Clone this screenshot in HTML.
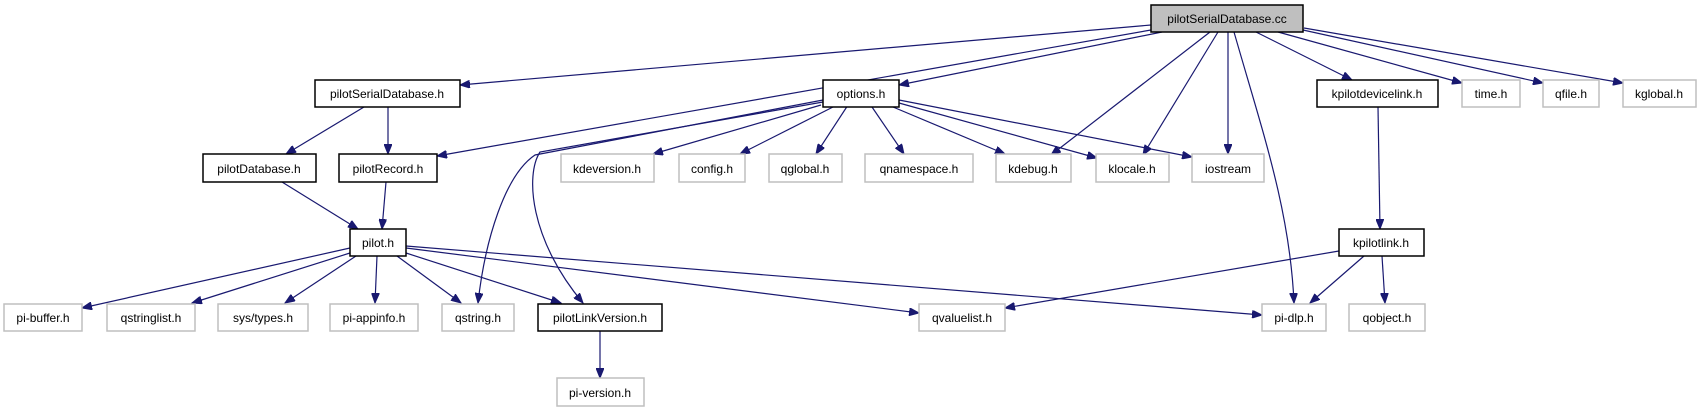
<!DOCTYPE html>
<html><head><meta charset="utf-8"><style>
html,body{margin:0;padding:0;background:#fff;}
svg{display:block;}
text{font-family:"Liberation Sans",Arial,sans-serif;font-size:12px;fill:#000;text-anchor:middle;}
.b{fill:#fff;stroke:#000;stroke-width:1.5;}
.g{fill:#fff;stroke:#bfbfbf;stroke-width:1.5;}
.e{fill:none;stroke:#191970;stroke-width:1.2;marker-end:url(#a);}
</style></head><body>
<svg width="1697" height="411" viewBox="0 0 1697 411" xmlns="http://www.w3.org/2000/svg">
<defs><marker id="a" markerWidth="11" markerHeight="8" refX="10" refY="4" orient="auto" markerUnits="userSpaceOnUse"><path d="M0,0 L10,4 L0,8 z" fill="#191970" stroke="#191970"/></marker></defs>
<g>
<path class="e" d="M1151,25 L460,85"/>
<path class="e" d="M1151,30 L437,156"/>
<path class="e" d="M1162,32 L899,85"/>
<path class="e" d="M1210,32 L1051,155"/>
<path class="e" d="M1218,32 L1143,155"/>
<path class="e" d="M1228,32 L1228,154"/>
<path class="e" d="M1234,32 C1262,130 1290,210 1294,303"/>
<path class="e" d="M1256,32 L1352,80"/>
<path class="e" d="M1278,32 L1462,83"/>
<path class="e" d="M1303,30 L1543,83"/>
<path class="e" d="M1304,28 L1623,83"/>
<path class="e" d="M364,107 L286,154"/>
<path class="e" d="M388,107 L388,154"/>
<path class="e" d="M386,182 L382,229"/>
<path class="e" d="M282,182 L358,229"/>
<path class="e" d="M821,105 L653,154"/>
<path class="e" d="M833,107 L740,154"/>
<path class="e" d="M848,105 L816,154"/>
<path class="e" d="M872,107 L904,154"/>
<path class="e" d="M893,107 L1005,154"/>
<path class="e" d="M899,103 L1097,158"/>
<path class="e" d="M899,100 L1192,157"/>
<path class="e" d="M823,100 L535,155 C505,175 485,240 478,303"/>
<path class="e" d="M823,102 L540,152 C525,175 530,240 583,303"/>
<path class="e" d="M350,248 L82,308"/>
<path class="e" d="M350,253 L192,303"/>
<path class="e" d="M356,256 L285,303"/>
<path class="e" d="M377,256 L375,303"/>
<path class="e" d="M397,256 L461,303"/>
<path class="e" d="M406,253 L561,303"/>
<path class="e" d="M406,248 L919,313"/>
<path class="e" d="M406,246 L1262,315"/>
<path class="e" d="M600,331 L600,378"/>
<path class="e" d="M1378,107 L1380,229"/>
<path class="e" d="M1339,251 L1005,308"/>
<path class="e" d="M1364,256 L1310,303"/>
<path class="e" d="M1382,256 L1385,303"/>
</g>
<rect x="1151" y="5" width="152" height="27" fill="#bfbfbf" stroke="#000" stroke-width="1.5"/><text x="1227" y="23">pilotSerialDatabase.cc</text>
<rect class="b" x="315" y="80" width="145" height="27"/><text x="387" y="98">pilotSerialDatabase.h</text>
<rect class="b" x="823" y="80" width="76" height="27"/><text x="861" y="98">options.h</text>
<rect class="b" x="1317" y="80" width="121" height="27"/><text x="1377" y="98">kpilotdevicelink.h</text>
<rect class="g" x="1462" y="80" width="58" height="27"/><text x="1491" y="98">time.h</text>
<rect class="g" x="1543" y="80" width="56" height="27"/><text x="1571" y="98">qfile.h</text>
<rect class="g" x="1623" y="80" width="73" height="27"/><text x="1659" y="98">kglobal.h</text>
<rect class="b" x="203" y="154" width="113" height="28"/><text x="259" y="173">pilotDatabase.h</text>
<rect class="b" x="339" y="154" width="98" height="28"/><text x="388" y="173">pilotRecord.h</text>
<rect class="g" x="561" y="154" width="93" height="28"/><text x="607" y="173">kdeversion.h</text>
<rect class="g" x="679" y="154" width="66" height="28"/><text x="712" y="173">config.h</text>
<rect class="g" x="769" y="154" width="73" height="28"/><text x="805" y="173">qglobal.h</text>
<rect class="g" x="865" y="154" width="108" height="28"/><text x="919" y="173">qnamespace.h</text>
<rect class="g" x="996" y="154" width="75" height="28"/><text x="1033" y="173">kdebug.h</text>
<rect class="g" x="1096" y="154" width="73" height="28"/><text x="1132" y="173">klocale.h</text>
<rect class="g" x="1192" y="154" width="72" height="28"/><text x="1228" y="173">iostream</text>
<rect class="b" x="350" y="229" width="56" height="27"/><text x="378" y="247">pilot.h</text>
<rect class="b" x="1339" y="229" width="85" height="27"/><text x="1381" y="247">kpilotlink.h</text>
<rect class="g" x="4" y="304" width="78" height="27"/><text x="43" y="322">pi-buffer.h</text>
<rect class="g" x="107" y="304" width="88" height="27"/><text x="151" y="322">qstringlist.h</text>
<rect class="g" x="218" y="304" width="90" height="27"/><text x="263" y="322">sys/types.h</text>
<rect class="g" x="330" y="304" width="88" height="27"/><text x="374" y="322">pi-appinfo.h</text>
<rect class="g" x="442" y="304" width="72" height="27"/><text x="478" y="322">qstring.h</text>
<rect class="b" x="538" y="304" width="124" height="27"/><text x="600" y="322">pilotLinkVersion.h</text>
<rect class="g" x="919" y="304" width="86" height="27"/><text x="962" y="322">qvaluelist.h</text>
<rect class="g" x="1262" y="304" width="64" height="27"/><text x="1294" y="322">pi-dlp.h</text>
<rect class="g" x="1349" y="304" width="76" height="27"/><text x="1387" y="322">qobject.h</text>
<rect class="g" x="557" y="378" width="87" height="28"/><text x="600" y="397">pi-version.h</text>
</svg>
</body></html>
